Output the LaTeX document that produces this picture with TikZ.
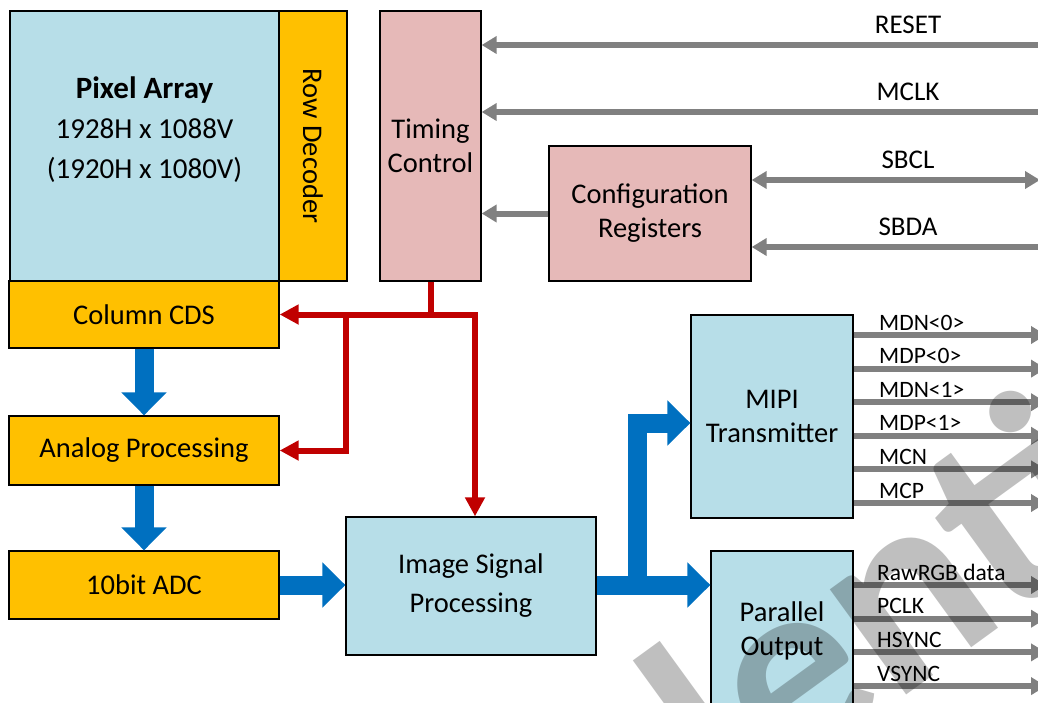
\documentclass[tikz,border=0pt]{standalone}
\usepackage{fontspec}
\setmainfont{Carlito}
\usetikzlibrary{positioning, arrows.meta}
\definecolor{cellblue}{HTML}{B7DEE8}
\definecolor{cellorange}{HTML}{FFC000}
\definecolor{cellpink}{HTML}{E6B9B8}
\definecolor{ctlred}{HTML}{C00000}
\definecolor{datablue}{HTML}{0070C0}
\definecolor{siggray}{HTML}{808080}
\tikzset{
  block/.style={
    draw, line width=1.3pt, inner sep=0pt, align=center,
    font=\fontsize{28.5}{34}\selectfont,
  },
  block blue/.style={block, fill=cellblue},
  block orange/.style={block, fill=cellorange},
  block pink/.style={block, fill=cellpink},
  sig arrow/.style={
    draw=siggray, line width=6pt,
    -{Triangle[length=15pt,width=17pt]},
  },
  ctl arrow/.style={
    draw=ctlred, line width=6pt, line join=miter,
    -{Triangle[length=19pt,width=19pt]},
  },
  data arrow/.style={
    draw=datablue, line width=19pt, line join=miter,
    -{Triangle[length=23pt,width=44pt]},
  },
  sig label/.style={
    font=\fontsize{27}{27}\selectfont, anchor=base, inner sep=0pt,
  },
  pin label/.style={
    font=\fontsize{23.5}{23.5}\selectfont, anchor=base west, inner sep=0pt,
  },
  wmark/.style={
    font=\fontsize{268}{268}\selectfont\bfseries,
    text=black, text opacity=0.25, rotate=36, anchor=base, inner sep=0pt,
  },
}

\begin{document}
\begin{tikzpicture}[x=1pt, y=-1pt]
\useasboundingbox (0,0) rectangle (1038,702);
% sensor core
\node[block blue, minimum width=269pt, minimum height=270pt] (pix) at (144.5,146) {};
\node[font=\fontsize{29}{40}\selectfont, align=center, inner sep=0pt] (pixlbl) at (144.5,130)
  {{\fontsize{31}{40}\selectfont\bfseries Pixel Array}\\1928H x 1088V\\(1920H x 1080V)};
\node[block orange, rotate=-90, minimum width=270pt, minimum height=68pt] (row) at (313,146) {Row Decoder};
\node[block orange, minimum width=270pt, minimum height=67pt] (cds) at (144,314.5) {Column CDS};
\node[block orange, minimum width=270pt, minimum height=69pt] (ana) at (144,450.5) {Analog Processing};
\node[block orange, minimum width=270pt, minimum height=68pt] (adc) at (144,585) {10bit ADC};
\node[block blue, minimum width=250pt, minimum height=138pt, font=\fontsize{28.5}{39}\selectfont] (isp) at (471,586) {Image Signal\\Processing};
% control side
\node[block pink, minimum width=101pt, minimum height=270pt] (tim) at (430.5,146) {Timing\\Control};
\node[block pink, minimum width=202pt, minimum height=135pt] (cfg) at (650,213.5) {Configuration\\Registers};
% outputs
\node[block blue, minimum width=162pt, minimum height=203pt] (mipi) at (772,416.5) {MIPI\\Transmitter};
\node[block blue, minimum width=142pt, minimum height=159pt] (par) at (782,630.5) {Parallel\\Output};

% data path
\draw[data arrow] (cds.south) -- (ana.north);
\draw[data arrow] (ana.south) -- (adc.north);
\draw[data arrow] (adc.east) -- (adc.east -| isp.west);
\coordinate (split) at (637,585);
\coordinate (bend) at (637,423);
\draw[data arrow] (isp.east |- split) -- (split -| par.west);
\draw[data arrow] (split) -- (bend) -- (bend -| mipi.west);

% timing lines
\draw[ctl arrow] (tim.south) |- (cds.east);
\draw[ctl arrow] (tim.south |- cds.east) -| ([xshift=4pt]isp.north);
\coordinate (tap) at (346,314.5);
\draw[ctl arrow] (tap) |- (ana.east);

% control inputs
\coordinate (reset) at (1038,45);
\coordinate (mclk) at (1038,112);
\coordinate (sbcl) at (1040,180);
\coordinate (sbda) at (1038,247);
\draw[sig arrow] (reset) -- (reset -| tim.east);
\draw[sig arrow] (mclk) -- (mclk -| tim.east);
\draw[sig arrow, {Triangle[length=15pt,width=17pt]}-{Triangle[length=15pt,width=17pt]}] (cfg.east |- sbcl) -- (sbcl);
\draw[sig arrow] (sbda) -- (sbda -| cfg.east);
\draw[sig arrow] (cfg.west) -- (cfg.west -| tim.east);
\foreach \s/\y in {RESET/45, MCLK/112, SBCL/180, SBDA/247}
  \node[sig label] (l-\s) at (908,\y-12) {\s};

% output pins
\foreach \s [count=\i from 0] in {MDN<0>, MDP<0>, MDN<1>, MDP<1>, MCN, MCP} {
  \coordinate (mo-\i) at (1046,335+33.6*\i);
  \draw[sig arrow] (mipi.east |- mo-\i) -- (mo-\i);
  \node[pin label] (ml-\i) at (879,330+33.6*\i) {\s};
}
\foreach \s [count=\i from 0] in {RawRGB data, PCLK, HSYNC, VSYNC} {
  \coordinate (po-\i) at (1046,585+33.7*\i);
  \draw[sig arrow] (par.east |- po-\i) -- (po-\i);
  \node[pin label] (pl-\i) at (877,580+33.7*\i) {\s};
}

\begin{scope}
  \clip (0,0) rectangle (1038,702);
  \node[wmark] (wm) at (748,810) {Confidential};
\end{scope}
\end{tikzpicture}
\end{document}
